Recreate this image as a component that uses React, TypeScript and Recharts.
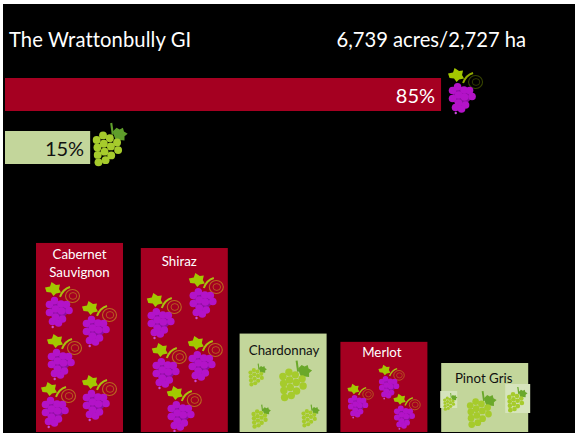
import React from "react";
import { BarChart, Bar, XAxis, YAxis } from "recharts";

const shareNames = ["Red varieties", "White varieties"];
const shareBarValues = [85, 16.6];
const shareLabels = ["85%", "15%"];
const shareKinds = ["red", "white"];

const varieties = ["Cabernet Sauvignon", "Shiraz", "Chardonnay", "Merlot", "Pinot Gris"];
const varietyValues = [41.1, 40, 21.4, 19.6, 15];
const varietyKinds = ["red", "red", "white", "red", "white"];

const title = "The Wrattonbully GI";
const areaText = "6,739 acres/2,727 ha";

const RED = "#A50021";
const GREEN = "#C3D69B";
const PATCH = "#D6E4BC";

// Decoration layout, relative to each bar's top-left corner: [dx, dy, icon width]
const varietyIcons: number[][][] = [
  [[9, 39, 36], [46, 58, 36], [11, 91, 36], [5, 139, 36], [46, 132, 36]],
  [[48, 25, 36], [6, 45, 36], [11, 95, 36], [47, 88, 36], [26, 138, 36]],
  [[9, 30, 18], [40, 27, 32], [12, 71, 19], [62, 71, 18]],
  [[38, 23, 27], [7, 42, 27], [53, 52, 28]],
  [[2, 30, 14], [26, 28, 29], [66, 24, 20]],
];
const varietyPatches: number[][][] = [[], [], [], [], [[-1, 28, 17, 17], [64, 21, 25, 29]]];
const varietyTextOffsets = [[0, 11, 29], [-5, 13], [1, 16], [-2, 10], [-1, 15]];
const varietyNudges = [-2, 2, 0, 0, 0];

const purpleBerries = [
  [4.5, 22.5], [9.5, 18.7], [16, 22], [21.5, 22.5], [10.5, 27], [16.5, 29], [24, 28.5],
  [4.5, 30.5], [10.5, 35], [17.5, 37], [7.5, 39.5], [13.5, 41],
];
const greenBerries = [
  [3.3, 16], [9.3, 11.7], [15.7, 14.3], [22.5, 18.3], [10, 19.5], [16.7, 22], [4, 23],
  [10.7, 27], [23.5, 25.5], [17, 30.5], [4.3, 30], [11.7, 35], [5, 37],
];

function PurpleGrape({ x, y, w, tendril, onBlack }: any) {
  const s = w / 36;
  return (
    <g transform={`translate(${x},${y}) scale(${s})`}>
      <path d="M0,5.5 L5,4.5 L6.5,0 L11,3 L15,2.5 L14,7 L16,10.5 L11,11.5 L8.5,14 L6,10.5 L1.5,10 Z" fill="#A2C800" />
      <path d="M15,15 Q18,7 25,5" fill="none" stroke={onBlack ? "#8FA800" : "#A9BE10"} strokeWidth={2} />
      <ellipse cx={27.5} cy={14} rx={7} ry={6.5} fill="none" stroke={tendril} strokeWidth={1.1} opacity={0.75} />
      <ellipse cx={28} cy={14} rx={3.8} ry={3.4} fill="none" stroke={tendril} strokeWidth={0.9} opacity={0.7} />
      <path d="M9,18 L22,21 L25,29 L12,42 L3,30 Z" fill="#8A0F9E" />
      {purpleBerries.map((b, i) => (
        <circle key={i} cx={b[0]} cy={b[1]} r={3.8} fill="#B313C8" />
      ))}
      <circle cx={7.7} cy={45} r={1.2} fill="#C84BD8" />
    </g>
  );
}

function GreenGrape({ x, y, w, onBlack }: any) {
  const s = w / 32;
  const leaf = onBlack ? "#5F9E2B" : "#6AA82A";
  return (
    <g transform={`translate(${x},${y}) scale(${s})`}>
      <path d="M17,0 L18.5,11" stroke={leaf} strokeWidth={2} fill="none" />
      <path d="M18.5,8 L22,4.5 L25,6 L28,4.5 L29,8 L32.5,10 L29.5,12.5 L29.5,16.5 L25,16 L22,17.5 L20,13 Z" fill={leaf} />
      {greenBerries.map((b, i) => (
        <circle key={i} cx={b[0]} cy={b[1]} r={3.7} fill="#A6CB2C" />
      ))}
    </g>
  );
}

function ShareBar(props: any) {
  const { x, y, width, height, index } = props;
  const red = shareKinds[index] === "red";
  const end = x + width;
  return (
    <g>
      <rect x={x} y={y} width={width} height={height} fill={red ? RED : GREEN} />
      <text x={end - 6} y={y + height / 2 + 0.5} textAnchor="end" dominantBaseline="central"
        fontFamily="Lato, sans-serif" fontSize={20} fill={red ? "#FFFFFF" : "#111111"}>
        {shareLabels[index]}
      </text>
      {red ? (
        <PurpleGrape x={end + 7} y={y - 10} w={36} tendril="#4A5C00" onBlack />
      ) : (
        <GreenGrape x={end + 3} y={y - 8} w={34} onBlack />
      )}
    </g>
  );
}

function VarietyBar(props: any) {
  const { y, width, height, index } = props;
  const x = props.x + varietyNudges[index];
  const red = varietyKinds[index] === "red";
  const words = index === 0 ? varieties[0].split(" ") : [varieties[index]];
  const off = varietyTextOffsets[index];
  const cx = x + width / 2 + off[0];
  return (
    <g>
      <rect x={x} y={y} width={width} height={height} fill={red ? RED : GREEN} />
      {varietyPatches[index].map((p, i) => (
        <rect key={i} x={x + p[0]} y={y + p[1]} width={p[2]} height={p[3]} fill={PATCH} />
      ))}
      {words.map((t, i) => (
        <text key={i} x={cx} y={y + off[i + 1]} textAnchor="middle" dominantBaseline="central"
          fontFamily="Lato, sans-serif" fontSize={13.3} fill={red ? "#FFFFFF" : "#111111"}>
          {t}
        </text>
      ))}
      {varietyIcons[index].map((c, i) =>
        red ? (
          <PurpleGrape key={i} x={x + c[0]} y={y + c[1]} w={c[2]} tendril="#C08A20" />
        ) : (
          <GreenGrape key={i} x={x + c[0]} y={y + c[1]} w={c[2]} />
        )
      )}
    </g>
  );
}

const shareData = shareNames.map((name, i) => ({ name, value: shareBarValues[i] }));
const varietyData = varieties.map((name, i) => ({ name, value: varietyValues[i] }));

const textStyle: React.CSSProperties = {
  position: "absolute",
  top: 27,
  color: "#FFFFFF",
  fontFamily: "Lato, sans-serif",
  fontSize: 20.2,
  lineHeight: "24px",
  whiteSpace: "nowrap",
};

export default function App() {
  return (
    <div style={{ position: "absolute", left: 0, top: 0, width: 575, height: 433, background: "#FFFFFF", overflow: "hidden" }}>
      <div style={{ position: "absolute", left: 3, top: 4, width: 572, height: 429, background: "#000000" }} />
      <div style={{ ...textStyle, left: 9, letterSpacing: 0.1 }}>{title}</div>
      <div style={{ ...textStyle, left: 336.5 }}>{areaText}</div>
      <div style={{ position: "absolute", left: 5, top: 68 }}>
        <BarChart width={513} height={106} data={shareData} layout="vertical" margin={{ top: 0, right: 0, bottom: 0, left: 0 }} style={{ overflow: "visible" }}>
          <XAxis type="number" domain={[0, 100]} hide />
          <YAxis type="category" dataKey="name" hide />
          <Bar dataKey="value" barSize={33} isAnimationActive={false} shape={ShareBar} />
        </BarChart>
      </div>
      <div style={{ position: "absolute", left: 31, top: 231 }}>
        <BarChart width={504} height={201} data={varietyData} margin={{ top: 0, right: 0, bottom: 0, left: 0 }} style={{ overflow: "visible" }}>
          <XAxis type="category" dataKey="name" hide />
          <YAxis type="number" domain={[0, 43.7]} hide />
          <Bar dataKey="value" barSize={87} isAnimationActive={false} shape={VarietyBar} />
        </BarChart>
      </div>
    </div>
  );
}
